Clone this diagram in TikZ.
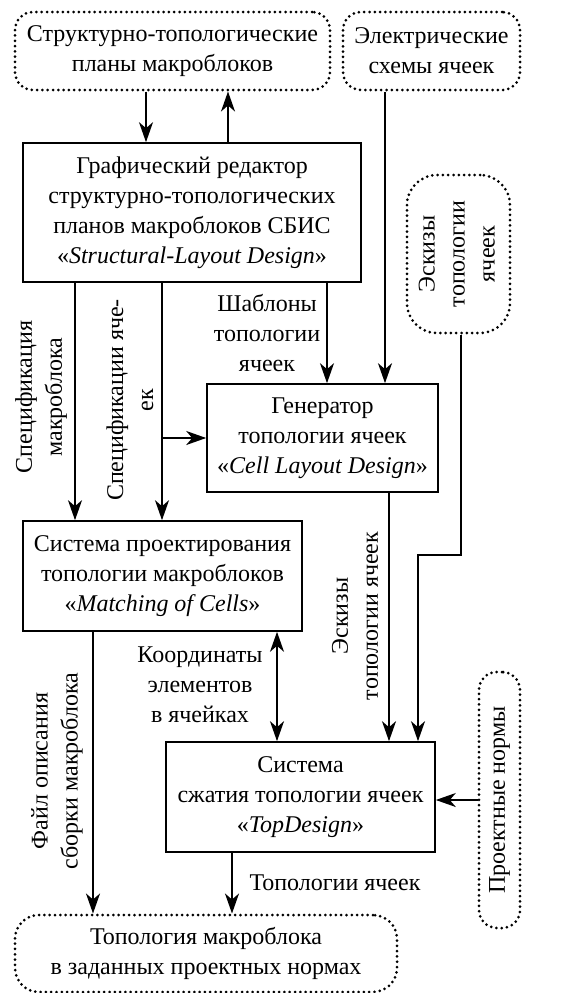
\documentclass[tikz,border=0pt]{standalone}
\usepackage{fontspec}
\setmainfont{Liberation Serif}
\usetikzlibrary{arrows.meta}

\begin{document}
\begin{tikzpicture}[x=1pt,y=-1pt,
    font=\fontsize{24}{30}\selectfont,
    >={Stealth[length=20pt,width=14pt,inset=6pt]},
    flow/.style={line width=1.8pt,->},
    box/.style={draw,line width=1.6pt,align=center,inner sep=0pt},
    dotbox/.style={draw,line width=3pt,dash pattern=on 0pt off 5.3pt,
      line cap=round,rounded corners=18pt,align=center,inner sep=0pt},
    lbl/.style={align=center,inner sep=0pt}]
    \useasboundingbox (0,0) rectangle (579,993);

    % sources
    \node[dotbox,minimum width=315pt,minimum height=78pt] (plans) at (172.5,51)
      {Структурно-топологические\\планы макроблоков};
    \node[dotbox,minimum width=177pt,minimum height=78pt] (elec) at (431.5,51)
      {Электрические\\схемы ячеек};
    \node[dotbox,rounded corners=30pt,minimum width=103pt,minimum height=158pt] (sketch) at (458.5,254)
      {\rotatebox{90}{\begin{tabular}{@{}c@{}}Эскизы\\топологии\\ячеек\end{tabular}}};
    \node[dotbox,minimum width=41pt,minimum height=256pt] (norms) at (499.5,800)
      {\rotatebox{90}{Проектные нормы}};

    % tools
    \node[box,minimum width=338pt,minimum height=139pt] (editor) at (192,212.5)
      {Графический редактор\\структурно-топологических\\планов макроблоков СБИС\\«\textit{Structural-Layout Design}»};
    \node[box,minimum width=231pt,minimum height=108pt] (gen) at (322.5,438)
      {Генератор\\топологии ячеек\\«\textit{Cell Layout Design}»};
    \node[box,minimum width=279pt,minimum height=110pt] (match) at (162.5,576)
      {Система проектирования\\топологии макроблоков\\«\textit{Matching of Cells}»};
    \node[box,minimum width=269pt,minimum height=110pt] (topd) at (300.5,797)
      {Система\\сжатия топологии ячеек\\«\textit{TopDesign}»};

    % result
    \node[dotbox,rounded corners=24pt,minimum width=382pt,minimum height=77pt] (result) at (206,953.5)
      {Топология макроблока\\в заданных проектных нормах};

    % flows
    \draw[flow] ([xshift=-26.5pt]plans.south) -- ([xshift=-26.5pt]plans.south |- editor.north);
    \draw[flow] ([xshift=36pt]editor.north) -- ([xshift=36pt]editor.north |- plans.south);
    \draw[flow] ([xshift=-46.5pt]elec.south) -- ([xshift=-46.5pt]elec.south |- gen.north);
    \draw[flow] ([xshift=-117pt]editor.south) -- ([xshift=-117pt]editor.south |- match.north);
    \draw[flow] ([xshift=-30pt]editor.south) -- ([xshift=-30pt]editor.south |- match.north);
    \draw[flow] ([xshift=-30pt]editor.south |- gen.west) -- (gen.west);
    \draw[flow] ([xshift=135pt]editor.south) -- ([xshift=135pt]editor.south |- gen.north);
    \draw[flow] ([xshift=66.5pt]gen.south) -- ([xshift=66.5pt]gen.south |- topd.north);
    \coordinate (kink) at (418,555);
    \draw[flow] ([xshift=2.5pt]sketch.south) |- (kink) -- (kink |- topd.north);
    \draw[flow,<->] ([xshift=-23.5pt]topd.north) -- ([xshift=-23.5pt]topd.north |- match.south);
    \draw[flow] (norms.west) -- (norms.west -| topd.east);
    \draw[flow] ([xshift=-68.5pt]topd.south) -- ([xshift=-68.5pt]topd.south |- result.north);
    \draw[flow] ([xshift=-69.5pt]match.south) -- ([xshift=-69.5pt]match.south |- result.north);

    % labels
    \node[lbl,rotate=90] (specmb) at (41,397) {Спецификация\\макроблока};
    \node[lbl,rotate=90] (speccell) at (130,400) {Спецификации яче-\\ек};
    \node[lbl] (tmpl) at (267,333) {Шаблоны\\топологии\\ячеек};
    \node[lbl,rotate=90] (sketchlbl) at (355,616) {Эскизы\\топологии ячеек};
    \node[lbl] (coord) at (200,685) {Координаты\\элементов\\в ячейках};
    \node[lbl] (toplbl) at (335,883) {Топологии ячеек};
    \node[lbl,rotate=90] (filelbl) at (57,771) {Файл описания\\сборки макроблока};
\end{tikzpicture}
\end{document}
